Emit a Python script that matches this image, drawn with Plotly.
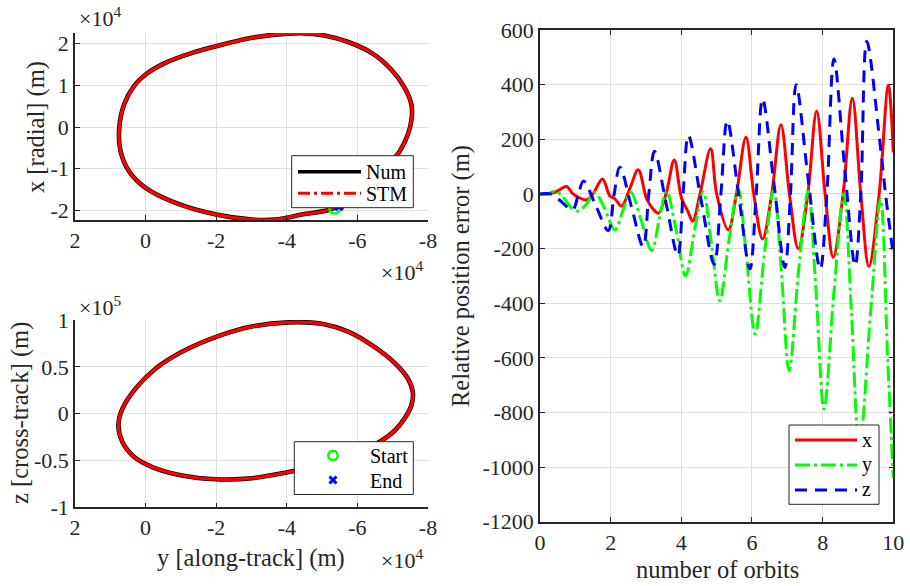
import plotly.graph_objects as go

# ---------------- relative motion trajectory (LVLH frame) ----------------
# along-track (y) and radial (x) positions, metres
traj_along_xy = [-66800, -70100, -72000, -74300, -75400, -75300, -73400, -69600, -64000,
                 -57400, -51000, -44000, -36000, -30100, -20000, -13200, -5600, 0, 3300,
                 6100, 7500, 7100, 4700, 0, -8500, -20000, -30100, -36700, -44200,
                 -53600, -61100, -66800]
traj_radial = [-10600, -7800, -5800, -1800, 2200, 5400, 9400, 13800, 17800,
               20400, 21900, 22500, 22100, 21400, 19400, 17800, 15400, 12600, 9800,
               5400, -600, -5800, -10600, -14600, -18200, -21000, -22200, -22200, -21000,
               -19400, -14600, -10600]

# along-track (y) and cross-track (z) positions, metres
traj_along_yz = [-66800, -70600, -73400, -75300, -75700, -74300, -70600, -64900, -57400,
                 -49900, -40500, -30100, -20000, -10300, -2800, 2800, 6600, 7700, 6600,
                 3300, -1900, -10300, -20000, -30100, -36700, -42300, -52000, -60000,
                 -66800]
traj_cross = [-29000, -18000, -5000, 9000, 23000, 37500, 54000, 71000, 87500,
              96000, 97500, 93000, 82000, 66000, 48000, 27000, 5000, -12500, -30000,
              -46000, -57000, -66000, -70000, -69000, -65000, -61000, -53000, -42000,
              -29000]

start_point = {"along": -53600, "radial": -19400, "cross": -53000}
end_point = {"along": -54800, "radial": -19000, "cross": -51500}

# ---------------- STM position error vs. numerical propagation ----------------
err_x_orbits = [0, 0.2, 0.4, 0.55, 0.755, 0.92, 1.08, 1.32, 1.5, 1.77, 1.98, 2.12, 2.31,
                2.55, 2.78, 3.02, 3.2, 3.35, 3.58, 3.80, 4.01, 4.18, 4.32, 4.53, 4.83,
                5.0, 5.33, 5.56, 5.83, 6.05, 6.30, 6.56, 6.82, 7.06, 7.31, 7.58, 7.83,
                8.07, 8.30, 8.58, 8.84, 9.08, 9.31, 9.60, 9.86, 10.0]
err_x_m = [0, 0, 5, 15, 27, 2, -12, -22, 0, 55, -8, -18, -45,
           22, 88, -18, -55, -71, 6, 124, -18, -62, -100, 0, 165,
           0, -132, 0, 207, 0, -165, 0, 253, 0, -201, 0, 303,
           0, -232, 0, 350, 0, -266, 0, 397, 152]

err_y_orbits = [0, 0.2, 0.45, 0.7, 0.88, 1.08, 1.3, 1.55, 1.8, 2.12, 2.35, 2.57, 2.85,
                3.16, 3.38, 3.58, 3.85, 4.12, 4.38, 4.62, 4.85, 5.09, 5.35, 5.61, 5.83,
                6.09, 6.36, 6.62, 6.83, 7.05, 7.32, 7.59, 7.81, 8.04, 8.32, 8.60, 8.81,
                9.04, 9.36, 9.64, 9.84, 10.0]
err_y_m = [0, 0, 10, -20, -50, -63, -40, 5, -45, -132, -60, 6, -90,
           -208, -90, 10, -130, -300, -130, 8, -180, -391, -170, 18, -210,
           -513, -210, 15, -280, -647, -280, 10, -350, -788, -360, 0, -420,
           -930, -430, -18, -600, -1040]

err_z_orbits = [0, 0.3, 0.55, 0.92, 1.08, 1.23, 1.58, 1.93, 2.1, 2.26, 2.59, 2.92, 3.08,
                3.24, 3.57, 3.9, 4.05, 4.2, 4.56, 4.93, 5.12, 5.30, 5.62, 5.94, 6.12,
                6.30, 6.62, 6.93, 7.09, 7.25, 7.59, 7.93, 8.12, 8.32, 8.62, 8.92, 9.08,
                9.25, 9.62, 9.78, 10.0]
err_z_m = [0, 0, -22, -58, -5, 47, -43, -134, 0, 98, -48, -193, 0,
           156, -35, -225, 0, 214, -22, -258, 0, 268, 0, -275, 0,
           348, 40, -269, 0, 400, 55, -275, 0, 494, 100, -263, 0,
           559, 190, 0, -225]

# tick positions / labels
orbit_along_ticks = [20000, 0, -20000, -40000, -60000, -80000]
orbit_along_labels = ["2", "0", "-2", "-4", "-6", "-8"]
radial_ticks = [-20000, -10000, 0, 10000, 20000]
radial_labels = ["-2", "-1", "0", "1", "2"]
cross_ticks = [-100000, -50000, 0, 50000, 100000]
cross_labels = ["-1", "-0.5", "0", "0.5", "1"]
orbit_count_ticks = [0, 2, 4, 6, 8, 10]
err_ticks = [-1200, -1000, -800, -600, -400, -200, 0, 200, 400, 600]

# ---------------- styling ----------------
FONT = "Liberation Serif"
AX = "#262626"
GRID = "#dfdfdf"
RED, GREEN, BLUE = "#ff0000", "#00ff00", "#0000ff"
DASHDOT_RED = "12px,4px,3px,4px"
DASHDOT_GREEN = "15px,4px,3px,4px"
DASHED = "12px,8px"
W, H = 910, 586
TICKFONT = dict(family=FONT, size=22, color=AX)
LABEL_SIZE = 24.5


def fx(p):
    return p / W


def fy(p):
    return 1 - p / H


def axis(domain, box=False, **kw):
    d = dict(domain=domain, showline=True, linecolor=AX, linewidth=1.5,
             mirror="ticks" if box else False,
             ticks="inside", ticklen=5, tickwidth=1.2, tickcolor=AX,
             showgrid=True, gridcolor=GRID, gridwidth=1, zeroline=False,
             tickfont=TICKFONT, tickmode="array", automargin=False)
    d.update(kw)
    return d


fig = go.Figure()

# --- top left: radial vs along-track ---
fig.add_trace(go.Scatter(x=traj_along_xy, y=traj_radial, mode="lines", name="Num",
                         line=dict(color="black", width=4.6, shape="spline"),
                         xaxis="x", yaxis="y", hoverinfo="skip"))
fig.add_trace(go.Scatter(x=traj_along_xy, y=traj_radial, mode="lines", name="STM",
                         line=dict(color=RED, width=3.2, shape="spline"),
                         xaxis="x", yaxis="y", hoverinfo="skip"))
fig.add_trace(go.Scatter(x=[start_point["along"]], y=[start_point["radial"]], mode="markers",
                         name="Start",
                         marker=dict(symbol="circle-open", color=GREEN, size=11,
                                     line=dict(width=2.5, color=GREEN)),
                         xaxis="x", yaxis="y"))
fig.add_trace(go.Scatter(x=[end_point["along"]], y=[end_point["radial"]], mode="markers",
                         name="End", marker=dict(symbol="x", color=BLUE, size=9),
                         xaxis="x", yaxis="y"))

# --- bottom left: cross-track vs along-track ---
fig.add_trace(go.Scatter(x=traj_along_yz, y=traj_cross, mode="lines", name="Num",
                         line=dict(color="black", width=4.6, shape="spline"),
                         xaxis="x2", yaxis="y2", hoverinfo="skip"))
fig.add_trace(go.Scatter(x=traj_along_yz, y=traj_cross, mode="lines", name="STM",
                         line=dict(color=RED, width=3.2, shape="spline"),
                         xaxis="x2", yaxis="y2", hoverinfo="skip"))
fig.add_trace(go.Scatter(x=[start_point["along"]], y=[start_point["cross"]], mode="markers",
                         name="Start",
                         marker=dict(symbol="circle-open", color=GREEN, size=11,
                                     line=dict(width=2.5, color=GREEN)),
                         xaxis="x2", yaxis="y2"))
fig.add_trace(go.Scatter(x=[end_point["along"]], y=[end_point["cross"]], mode="markers",
                         name="End", marker=dict(symbol="x", color=BLUE, size=9),
                         xaxis="x2", yaxis="y2"))

# --- right: position error components ---
fig.add_trace(go.Scatter(x=err_x_orbits, y=err_x_m, mode="lines", name="x",
                         line=dict(color=RED, width=3, shape="spline"),
                         xaxis="x3", yaxis="y3"))
fig.add_trace(go.Scatter(x=err_y_orbits, y=err_y_m, mode="lines", name="y",
                         line=dict(color=GREEN, width=3, shape="spline", dash=DASHDOT_GREEN),
                         xaxis="x3", yaxis="y3"))
fig.add_trace(go.Scatter(x=err_z_orbits, y=err_z_m, mode="lines", name="z",
                         line=dict(color=BLUE, width=3, shape="spline", dash=DASHED),
                         xaxis="x3", yaxis="y3"))

dom_left = [fx(75), fx(428)]

fig.update_layout(
    width=W, height=H, margin=dict(l=0, r=0, t=0, b=0, pad=0, autoexpand=False),
    paper_bgcolor="white", plot_bgcolor="white", showlegend=False,
    font=dict(family=FONT, size=22, color=AX),
    xaxis=axis(dom_left, range=[20000, -80000], tickvals=orbit_along_ticks,
               ticktext=orbit_along_labels, anchor="y"),
    yaxis=axis([fy(220), fy(33)], range=[-22300, 22560], tickvals=radial_ticks,
               ticktext=radial_labels, anchor="x"),
    xaxis2=axis(dom_left, range=[20000, -80000], tickvals=orbit_along_ticks,
                ticktext=orbit_along_labels, anchor="y2"),
    yaxis2=axis([fy(507.3), fy(320)], range=[-100000, 100000], tickvals=cross_ticks,
                ticktext=cross_labels, anchor="x2"),
    xaxis3=axis([fx(540), fx(893.3)], box=True, range=[0, 10], tickvals=orbit_count_ticks,
                ticktext=[str(v) for v in orbit_count_ticks], anchor="y3"),
    yaxis3=axis([fy(521.7), fy(30)], box=True, range=[-1200, 600], tickvals=err_ticks,
                ticktext=[str(v) for v in err_ticks], anchor="x3"),
)


def label(text, x, y, size=LABEL_SIZE, angle=0, xanchor="center", color=AX):
    fig.add_annotation(text=text, x=fx(x), y=fy(y), xref="paper", yref="paper",
                       showarrow=False, textangle=angle, xanchor=xanchor, yanchor="middle",
                       font=dict(family=FONT, size=size, color=color))


def key_box(x0, y0, x1, y1):
    fig.add_shape(type="rect", xref="paper", yref="paper", layer="above",
                  x0=fx(x0), x1=fx(x1), y0=fy(y1), y1=fy(y0),
                  fillcolor="white", line=dict(color=AX, width=1))


def key_line(x0, x1, y, color, width, dash="solid"):
    fig.add_shape(type="line", xref="paper", yref="paper", layer="above",
                  x0=fx(x0), x1=fx(x1), y0=fy(y), y1=fy(y),
                  line=dict(color=color, width=width, dash=dash))


# axis labels
label("x [radial] (m)", 36, 127, angle=-90)
label("z [cross-track] (m)", 20, 413, angle=-90)
label("y [along-track] (m)", 251, 558)
label("Relative position error (m)", 461, 276, angle=-90)
label("number of orbits", 717, 569.5)

# axis multipliers
label("×10<sup>4</sup>", 77, 17, size=22, xanchor="left")
label("×10<sup>4</sup>", 379, 271, size=22, xanchor="left")
label("×10<sup>5</sup>", 77, 306, size=22, xanchor="left")
label("×10<sup>4</sup>", 379, 559, size=22, xanchor="left")

# key: propagators (top left)
key_box(291.7, 155.7, 413.3, 207.7)
key_line(298, 361, 171.7, "black", 3.5)
key_line(298, 361, 193.3, RED, 3, DASHDOT_RED)
label("Num", 364, 172, size=20, xanchor="left", color="black")
label("STM", 364, 194, size=20, xanchor="left", color="black")

# key: trajectory end points (bottom left)
key_box(294.3, 441.7, 413.3, 494.5)
fig.add_shape(type="circle", xref="paper", yref="paper", layer="above",
              x0=fx(328.3), x1=fx(337.7), y0=fy(460.2), y1=fy(450.8),
              fillcolor="rgba(0,0,0,0)", line=dict(color=GREEN, width=2.5))
fig.add_shape(type="line", xref="paper", yref="paper", layer="above",
              x0=fx(329.5), x1=fx(336.5), y0=fy(476.5), y1=fy(483.5),
              line=dict(color=BLUE, width=3))
fig.add_shape(type="line", xref="paper", yref="paper", layer="above",
              x0=fx(329.5), x1=fx(336.5), y0=fy(483.5), y1=fy(476.5),
              line=dict(color=BLUE, width=3))
label("Start", 368, 456, size=20, xanchor="left", color="black")
label("End", 368, 481, size=20, xanchor="left", color="black")

# key: error components (right)
key_box(789, 425, 879, 504.3)
key_line(795, 857, 440, RED, 3)
key_line(795, 857, 465, GREEN, 3, DASHDOT_GREEN)
key_line(795, 857, 490, BLUE, 3, DASHED)
label("x", 860, 440, size=20, xanchor="left", color="black")
label("y", 860, 464, size=20, xanchor="left", color="black")
label("z", 860, 489, size=20, xanchor="left", color="black")

fig.write_html("out.html")
